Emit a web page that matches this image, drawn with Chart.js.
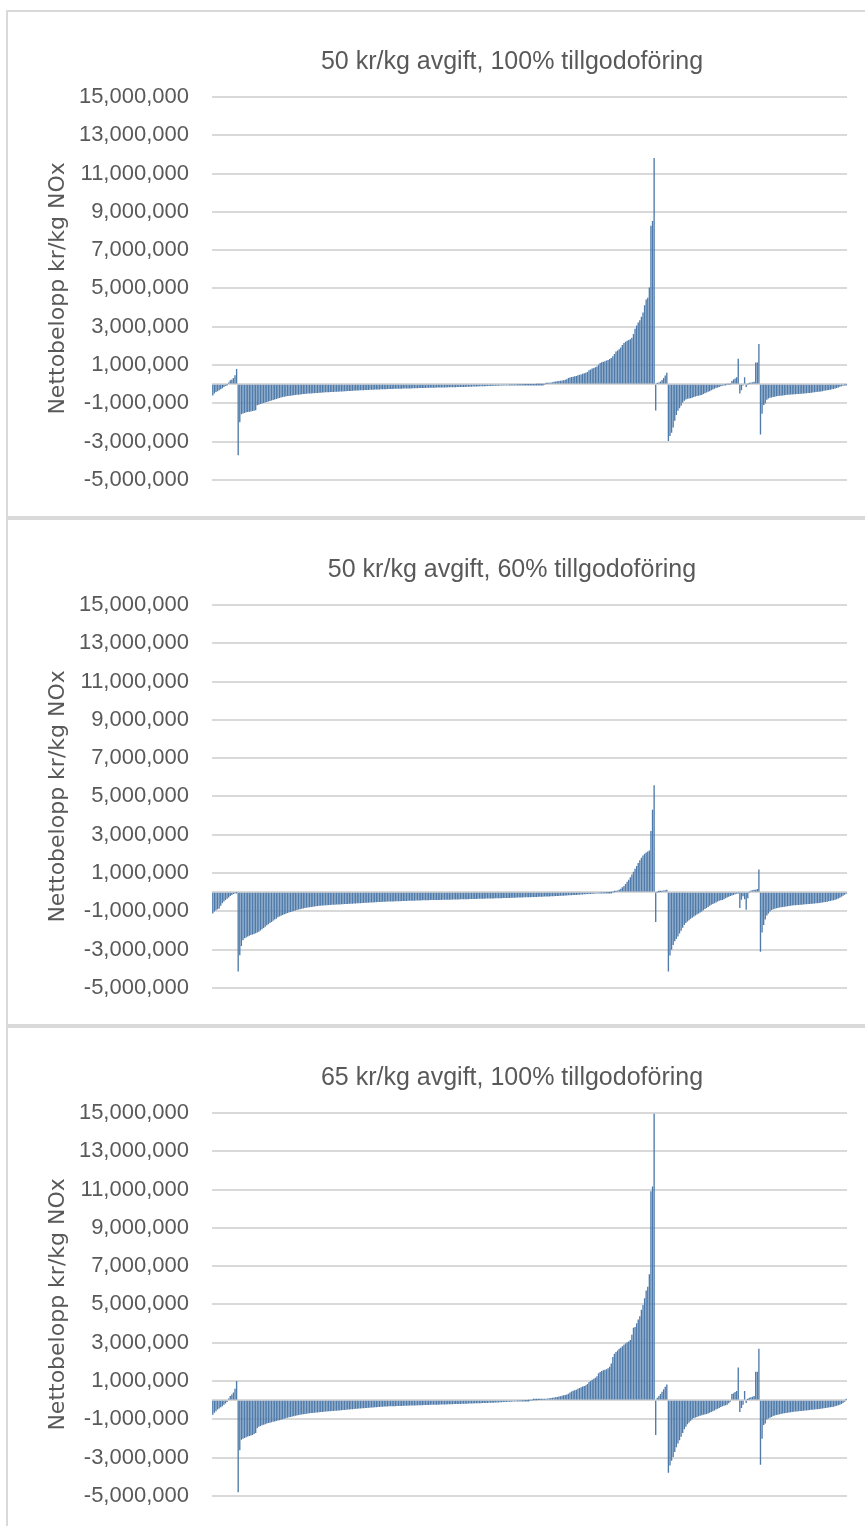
<!DOCTYPE html>
<html>
<head>
<meta charset="utf-8">
<script src="https://cdn.jsdelivr.net/npm/chart.js@4.4.1/dist/chart.umd.min.js"></script>
<style>
  html, body { margin: 0; padding: 0; background: #fff; overflow: hidden; }
  .box { position: absolute; left: 6px; width: 880px; height: 504px; border: 2px solid #d9d9d9; background: #fff; }
  .box canvas { position: absolute; left: 0; top: 0; }
</style>
</head>
<body>
<div class="box" style="top:10px"><canvas id="chart1" width="857" height="504"></canvas></div>
<div class="box" style="top:518px"><canvas id="chart2" width="857" height="504"></canvas></div>
<div class="box" style="top:1026px"><canvas id="chart3" width="857" height="504"></canvas></div>
<script>
// values, in thousands of kr per kg NOx (one bar per plant, 400 bars)
const netto50_100 = [
  -580, -470, -400, -350, -300, -250, -200, -140, -80, -30,
  60, 190, 220, 300, 450, 770, -3700, -1980, -1560, -1520,
  -1490, -1460, -1440, -1430, -1410, -1390, -1370, -1350, -1090, -1060,
  -1025, -1000, -970, -945, -915, -890, -865, -840, -815, -790,
  -760, -735, -710, -685, -660, -640, -625, -610, -600, -590,
  -575, -565, -555, -545, -535, -525, -515, -505, -495, -488,
  -480, -474, -468, -462, -456, -450, -444, -438, -432, -426,
  -420, -415, -410, -405, -400, -395, -390, -385, -380, -376,
  -372, -368, -363, -358, -353, -348, -343, -338, -333, -328,
  -322, -317, -312, -307, -302, -298, -294, -290, -286, -282,
  -278, -274, -270, -266, -262, -259, -256, -253, -250, -247,
  -244, -241, -238, -235, -232, -229, -226, -224, -222, -220,
  -218, -216, -214, -212, -210, -208, -205, -202, -199, -196,
  -193, -190, -187, -184, -181, -178, -176, -174, -172, -170,
  -168, -166, -164, -162, -160, -158, -156, -154, -152, -150,
  -148, -146, -144, -142, -140, -138, -136, -134, -131, -128,
  -125, -122, -119, -116, -113, -110, -107, -104, -101, -98,
  -95, -92, -89, -86, -83, -80, -77, -74, -71, -68,
  -65, -62, -59, -56, -53, -50, -47, -44, -41, -38,
  -35, -32, -29, -26, -23, -20, -18, -16, -14, -12,
  -10, -8, -7, -6, -5, -4, -3, -2, -1, 0,
  30, 40, 55, 70, 85, 100, 115, 130, 145, 160,
  175, 190, 205, 240, 300, 330, 355, 370, 390, 410,
  440, 465, 490, 520, 550, 580, 620, 700, 750, 800,
  830, 860, 900, 1000, 1080, 1120, 1150, 1180, 1210, 1240,
  1290, 1340, 1440, 1560, 1680, 1740, 1800, 1900, 2030, 2130,
  2200, 2250, 2290, 2330, 2410, 2600, 2880, 3050, 3200, 3320,
  3500, 3730, 4100, 4400, 4500, 5030, 8250, 8500, 11800, -1360,
  40, 70, 120, 200, 300, 430, 580, -2950, -2700, -2520,
  -2250, -1900, -1600, -1380, -1240, -1110, -950, -850, -790, -750,
  -735, -720, -690, -660, -630, -605, -590, -570, -555, -500,
  -460, -420, -385, -350, -310, -260, -220, -190, -165, -130,
  -100, -70, -40, -20, 0, 0, 0, 150, 220, 270,
  340, 1310, -480, -310, -50, 340, -140, 0, 40, 60,
  80, 100, 1110, 1110, 2080, -2610, -1530, -1070, -990, -800,
  -730, -700, -680, -660, -640, -620, -605, -595, -585, -575,
  -565, -555, -545, -535, -528, -521, -514, -507, -500, -494,
  -488, -482, -476, -468, -460, -452, -444, -435, -425, -413,
  -400, -388, -376, -363, -350, -336, -322, -306, -290, -274,
  -256, -235, -215, -190, -160, -120, -90, -65, -40, -20
];

const netto50_60 = [
  -1100, -1000, -930, -880, -840, -700, -560, -480, -400, -330,
  -260, -190, -130, -80, -40, -20, -4130, -3280, -2800, -2500,
  -2400, -2350, -2300, -2260, -2230, -2200, -2170, -2130, -2100, -2050,
  -1990, -1930, -1860, -1790, -1720, -1660, -1600, -1540, -1480, -1420,
  -1370, -1300, -1260, -1220, -1180, -1140, -1110, -1080, -1050, -1020,
  -990, -965, -940, -915, -895, -875, -855, -835, -815, -800,
  -785, -770, -757, -745, -733, -722, -712, -702, -693, -685,
  -678, -671, -665, -660, -655, -650, -645, -640, -635, -630,
  -625, -620, -615, -610, -605, -600, -595, -590, -585, -580,
  -575, -570, -565, -560, -555, -550, -545, -540, -535, -530,
  -525, -520, -515, -510, -505, -500, -496, -492, -488, -484,
  -480, -477, -474, -471, -468, -465, -462, -459, -456, -453,
  -450, -447, -444, -441, -438, -435, -432, -429, -426, -423,
  -420, -417, -414, -411, -408, -405, -403, -401, -399, -397,
  -395, -393, -391, -390, -389, -387, -385, -383, -381, -379,
  -377, -375, -372, -370, -367, -365, -362, -360, -357, -355,
  -352, -350, -347, -345, -342, -340, -337, -335, -332, -330,
  -327, -325, -322, -320, -318, -316, -314, -312, -310, -308,
  -306, -303, -300, -297, -294, -291, -288, -285, -282, -279,
  -276, -273, -270, -267, -264, -261, -258, -255, -252, -249,
  -246, -243, -240, -237, -234, -231, -228, -225, -222, -219,
  -216, -213, -210, -206, -202, -198, -193, -188, -183, -178,
  -173, -168, -163, -158, -153, -148, -143, -138, -133, -128,
  -123, -118, -112, -106, -100, -94, -88, -82, -76, -70,
  -64, -58, -53, -48, -43, -38, -33, -28, -22, -16,
  -10, -4, 0, 10, 30, 60, 100, 160, 230, 300,
  400, 520, 630, 760, 900, 1050, 1200, 1350, 1500, 1650,
  1780, 1900, 1990, 2050, 2100, 2160, 3180, 4290, 5560, -1550,
  0, 10, 20, 40, 60, 80, 100, -4130, -3300, -3000,
  -2750, -2550, -2430, -2300, -2150, -2000, -1850, -1700, -1600, -1520,
  -1450, -1380, -1320, -1260, -1200, -1150, -1100, -1050, -990, -930,
  -870, -810, -760, -700, -650, -600, -560, -520, -480, -440,
  -410, -390, -350, -310, -270, -230, -190, -160, -140, -100,
  -70, -40, -820, -380, -200, -350, -900, -300, 0, 60,
  80, 100, 110, 150, 1170, -3100, -2090, -1700, -1410, -1200,
  -1100, -1000, -920, -880, -850, -830, -810, -790, -775, -760,
  -745, -732, -720, -708, -697, -686, -676, -667, -659, -652,
  -645, -638, -631, -624, -617, -610, -603, -596, -589, -580,
  -570, -560, -550, -540, -528, -515, -500, -484, -466, -447,
  -426, -404, -380, -350, -315, -275, -225, -170, -120, -70
];

const netto65_100 = [
  -750, -650, -560, -480, -420, -360, -300, -230, -160, -80,
  60, 200, 280, 380, 580, 980, -4800, -2600, -2050, -2000,
  -1960, -1920, -1890, -1860, -1830, -1800, -1760, -1700, -1450, -1380,
  -1330, -1300, -1270, -1240, -1210, -1180, -1160, -1140, -1120, -1095,
  -1070, -1050, -1030, -1005, -980, -955, -930, -905, -885, -865,
  -845, -825, -805, -785, -765, -748, -732, -718, -705, -693,
  -682, -672, -662, -652, -643, -634, -625, -616, -607, -598,
  -590, -582, -575, -568, -562, -556, -549, -542, -535, -528,
  -520, -512, -504, -496, -488, -480, -472, -464, -456, -448,
  -441, -434, -427, -420, -413, -406, -399, -392, -385, -378,
  -371, -365, -359, -353, -347, -341, -335, -329, -323, -317,
  -313, -310, -307, -304, -301, -298, -295, -292, -289, -286,
  -283, -280, -277, -274, -271, -268, -265, -262, -259, -256,
  -253, -250, -247, -244, -241, -238, -235, -232, -229, -226,
  -224, -222, -220, -218, -216, -213, -210, -207, -204, -201,
  -198, -195, -192, -189, -186, -183, -180, -177, -174, -171,
  -168, -165, -162, -159, -156, -153, -150, -147, -144, -141,
  -138, -135, -132, -129, -126, -123, -120, -117, -113, -108,
  -103, -98, -93, -88, -83, -78, -73, -68, -63, -58,
  -53, -48, -43, -38, -33, -28, -23, -17, -11, -5,
  0, 0, 5, 10, 15, 20, 25, 30, 35, 40,
  45, 60, 75, 90, 105, 120, 135, 150, 170, 190,
  210, 230, 255, 280, 310, 380, 430, 470, 500, 530,
  570, 610, 650, 690, 720, 760, 820, 930, 980, 1040,
  1100, 1150, 1230, 1390, 1450, 1500, 1540, 1570, 1600, 1650,
  1720, 1900, 2240, 2400, 2500, 2580, 2660, 2720, 2800, 2870,
  2940, 3000, 3050, 3120, 3400, 3760, 3800, 4000, 4200, 4360,
  4700, 4950, 5300, 5710, 5900, 6560, 10900, 11140, 14950, -1800,
  100, 200, 300, 420, 550, 680, 800, -3780, -3400, -3150,
  -2950, -2700, -2450, -2250, -2080, -1900, -1700, -1500, -1380, -1250,
  -1150, -1060, -980, -920, -890, -860, -830, -800, -770, -745,
  -730, -705, -680, -640, -600, -560, -520, -480, -440, -390,
  -340, -310, -280, -250, -220, -150, -70, 300, 340, 400,
  460, 1680, -610, -400, -220, 460, -140, 20, 100, 130,
  160, 200, 1470, 1470, 2660, -3360, -2000, -1290, -1200, -1000,
  -950, -900, -860, -820, -790, -765, -745, -725, -705, -688,
  -672, -657, -643, -630, -618, -606, -595, -584, -574, -565,
  -556, -547, -538, -529, -520, -511, -502, -493, -484, -475,
  -466, -456, -446, -435, -424, -412, -400, -387, -373, -358,
  -342, -324, -304, -280, -252, -220, -180, -130, -70, 30
];

const anlaggningar = netto50_100.map((_, i) => String(i + 1));

const titles = [
  '50 kr/kg avgift, 100% tillgodoföring',
  '50 kr/kg avgift, 60% tillgodoföring',
  '65 kr/kg avgift, 100% tillgodoföring',
];
const yTitle = 'Nettobelopp kr/kg NOx';
const yMin = -5000000;
const yMax = 15000000;
const yStep = 2000000;

const gray = '#595959';
const gridGray = '#d9d9d9';
const barBlue = '#4f7bab';

// chart title drawn at a fixed spot, like the Excel original
const boxTitle = {
  id: 'boxTitle',
  afterDraw(chart, args, opts) {
    const ctx = chart.ctx;
    ctx.save();
    ctx.font = '25px "Liberation Sans", Arial, sans-serif';
    ctx.fillStyle = gray;
    ctx.textAlign = 'center';
    ctx.textBaseline = 'middle';
    ctx.fillText(opts.text, opts.x, opts.y);
    ctx.restore();
  }
};

function makeChart(id, values, title) {
  const ctx = document.getElementById(id).getContext('2d');
  return new Chart(ctx, {
    type: 'bar',
    data: {
      labels: anlaggningar,
      datasets: [{
        data: values.map(v => v * 1000),
        backgroundColor: barBlue,
        barThickness: 0.7,
      }]
    },
    options: {
      responsive: false,
      animation: false,
      events: [],
      layout: { padding: { top: 85, right: 18, bottom: 27, left: 0 } },
      plugins: {
        legend: { display: false },
        tooltip: { enabled: false },
        boxTitle: { text: title, x: 504, y: 50 },
      },
      scales: {
        x: { display: false },
        y: {
          min: yMin,
          max: yMax,
          afterFit: (scale) => { scale.width = 204; },
          afterBuildTicks: (scale) => {
            // the zero line (category axis) has no label
            scale.ticks.push({ value: 0 });
            scale.ticks.sort((a, b) => a.value - b.value);
          },
          ticks: {
            stepSize: yStep,
            padding: 23,
            color: gray,
            font: { family: '"Liberation Sans", Arial, sans-serif', size: 22 },
            callback: (v) => v === 0 ? '' : v.toLocaleString('en-US'),
          },
          grid: { color: gridGray, lineWidth: 2, drawTicks: false },
          border: { display: false },
          title: {
            display: true,
            text: yTitle,
            color: gray,
            font: { family: '"DejaVu Sans", Verdana, sans-serif', size: 22 },
            padding: { top: 37, bottom: 0 },
          },
        },
      },
    },
    plugins: [boxTitle],
  });
}

makeChart('chart1', netto50_100, titles[0]);
makeChart('chart2', netto50_60, titles[1]);
makeChart('chart3', netto65_100, titles[2]);
</script>
</body>
</html>
